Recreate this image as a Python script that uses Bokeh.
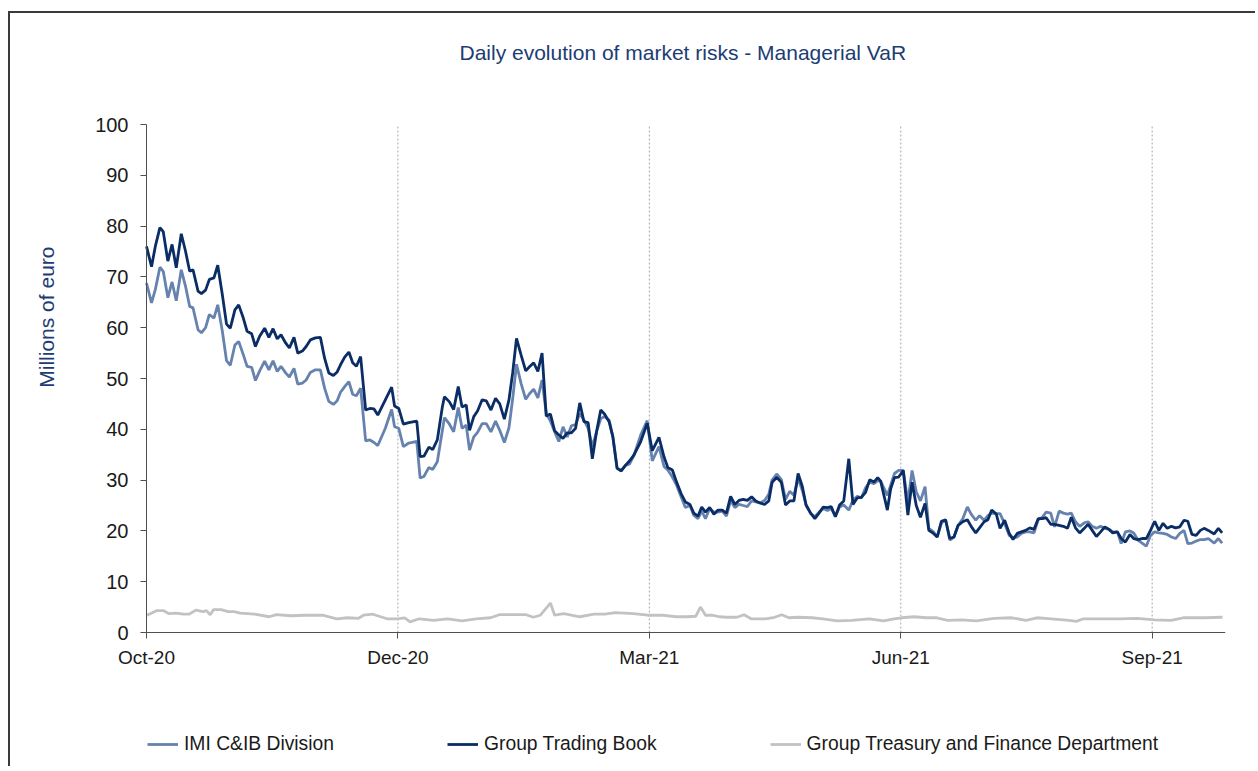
from bokeh.plotting import figure
from bokeh.models import FixedTicker, Legend, LegendItem, Title, LinearAxis
from bokeh.embed import file_html
from bokeh.resources import INLINE

# ---------------- data ----------------
# x = trading-day index since start of Oct-20
tick_days = [0, 60, 120, 180, 240]
tick_labels = ["Oct-20", "Dec-20", "Mar-21", "Jun-21", "Sep-21"]
y_ticks = [0, 10, 20, 30, 40, 50, 60, 70, 80, 90, 100]

days = [
    0, 1.2, 2.1, 3.2, 4, 5.1, 6.1, 7.1, 8.3, 9.3,
    10.3, 11.1, 12.3, 13.1, 14.1, 15, 16.1, 17, 18.1, 19.1,
    20, 21.1, 22, 23.1, 24, 25.1, 26, 27, 28.2, 29.2,
    30.2, 31.2, 32.1, 33.2, 34.1, 35.2, 36.1, 37.2, 38.1, 39.1,
    40.3, 41.5, 42.5, 43.5, 44.6, 45.5, 46.3, 47.3, 48.3, 49.2,
    50.1, 51.1, 52.3, 53.3, 54.3, 55.2,
    57, 58.5, 59.2, 60.2, 61.3, 62.6, 64.5, 65.3, 66.2, 67.4,
    68.3, 69.4, 70.6, 71.1, 72.3, 73.3, 74.4, 75.3, 76.3, 77.1,
    78.1, 79, 80.1, 81.1, 82.2, 83.3, 84.3, 85.4, 86.5, 87.4,
    88.3, 89.4, 90.5, 91.4, 92.4, 93.4, 94.4, 95.4, 96.4, 97.4,
    98.4, 99.4, 100.4, 101.4, 102.4, 103.4, 104.4, 105.4, 106.4, 107.4,
    108.4, 109.3, 110.4, 111.3, 112.3, 113.3, 114.3, 115.3, 116.3,
    117.9, 119.5, 120.7, 122.3, 123.5, 124.4, 125.5, 126.5, 127.6, 128.6,
    129.7, 130.6, 131.6, 132.5, 133.4, 134.4, 135.4, 136.4, 137.4, 138.4,
    139.4, 140.4, 141.4, 142.4, 143.4, 144.4, 145.4, 146.4, 147.5, 148.5,
    149.3, 150.4, 151.5, 152.5, 153.5, 154.5, 155.5, 156.5, 157.4, 158.5,
    159.5, 160.5, 161.5, 162.5, 163.4, 164.4, 165.4, 166.4, 167.6, 168.6,
    169.6, 170.6, 171.6, 172.6, 173.6, 174.5,
    175.2, 176.8, 177.6, 178.5, 179.5, 180.6, 181.7, 182.7, 183.7, 184.7,
    185.8, 186.7, 187.8, 188.7, 189.7, 190.7, 191.7, 192.7, 193.7, 194.8,
    195.9, 196.8, 197.9, 198.8, 199.9, 200.8, 201.7, 202.8, 203.7, 204.8,
    205.9, 206.8, 207.8, 208.8, 209.8, 210.8, 211.8, 212.8, 213.8, 214.7,
    215.8, 216.7, 217.8, 218.8, 219.8, 220.7, 221.7, 222.7, 223.8, 224.7,
    225.7, 226.7, 227.7, 228.7, 229.7, 230.6, 231.7, 232.6, 233.6, 234.7,
    235.6, 236.6, 237.6, 238.6, 239.6, 240.6, 241.6, 242.6, 243.6, 244.6,
    245.6, 246.6, 247.6, 248.5, 249.5, 250.5, 251.5, 252.4, 253.4, 254.8,
    255.8, 256.7,
]

imi_cib = [
    68.8, 64.9, 67.5, 71.9, 71.1, 65.9, 69, 65.3, 71.4, 68.2,
    64.2, 63.9, 59.6, 59, 60, 62.6, 61.9, 64.5, 59.3, 53.5,
    52.6, 56.6, 57.3, 54.7, 52.4, 52.2, 49.6, 51.5, 53.4, 51.7,
    53.5, 51.4, 52.4, 51.1, 50.3, 52, 48.9, 49.1, 49.7, 51.2,
    51.7, 51.7, 48.1, 45.5, 44.9, 45.6, 47.3, 48.4, 49.4, 46.9,
    46.6, 48.1, 37.7, 37.9, 37.4, 36.8,
    40.2, 43.9, 40.5, 40.2, 36.6, 37.3, 37.6, 30.4, 30.7, 32.5,
    32.1, 33.6, 39.7, 42.3, 41, 39.5, 44.3, 40.2, 40.8, 35.9,
    38.5, 39.4, 41.1, 41.1, 39.5, 41.6, 39.8, 37.4, 40.3, 46.1,
    52.8, 49, 45.9, 47, 47.9, 46.2, 49.7, 43.1, 41.6, 39.5,
    37.6, 40.5, 38.5, 40.7, 40.9, 43.1, 41.8, 40.2, 36.6, 39.5,
    42.1, 42.5, 41.8, 38.5, 32.4, 31.9, 32.9, 33.2, 34.8,
    38.8, 41.7, 33.8, 36.6, 32.7, 32, 30.6, 29, 26.7, 24.6,
    25, 23.1, 22.4, 23.9, 22.4, 24.4, 23.7, 23.7, 23.9, 22.9,
    26, 24.6, 25.2, 25, 24.8, 25.9, 25.7, 25.5, 26, 27.2,
    30, 31.2, 30.1, 26.2, 27.8, 27, 30.3, 28, 25.1, 23.4,
    22.8, 23.7, 24.4, 24, 24.4, 22.9, 24.7, 25.1, 24.1, 26,
    26.8, 26.5, 28.5, 29.6, 29.3, 29.9,
    29.8, 27, 29, 31.3, 31.9, 31.9, 25.7, 31.9, 27.7, 25.9,
    28.7, 20.5, 19.8, 18.8, 21.5, 22.2, 18.2, 18.8, 21.1, 22.4,
    24.7, 23.3, 22.1, 23, 22.1, 23, 23.5, 23.4, 23.4, 21.4,
    19.1, 18.7, 18.8, 19.5, 19.8, 19.8, 19.6, 22.2, 22.7, 23.7,
    23.5, 20.8, 23.9, 23.5, 23.3, 23.5, 21.8, 20.9, 21.6, 21.8,
    20.9, 20.5, 20.9, 20.5, 20.3, 19.8, 19.8, 17.5, 19.8, 20,
    19.6, 18.2, 17.6, 17, 19.1, 19.8, 19.6, 19.5, 19.3, 18.8,
    18.5, 19.5, 20.1, 17.5, 17.6, 18, 18.3, 18.3, 18.5, 17.6,
    18.5, 17.6,
]

group_trading_book = [
    76, 72, 76, 79.7, 78.9, 73.1, 76.4, 71.8, 78.5, 75.1,
    71.1, 71.4, 67.2, 66.7, 67.4, 69.5, 69.8, 72.3, 66.5, 60.7,
    59.9, 63.5, 64.5, 61.9, 59.3, 58.8, 56.3, 58.3, 59.9, 58.1,
    59.8, 57.8, 58.6, 57, 56, 58.1, 55, 55.4, 56.3, 57.6,
    58, 58.1, 54, 51.1, 50.6, 51.3, 52.7, 54.2, 55.2, 53.1,
    52.4, 54.3, 43.8, 44.1, 44, 42.8,
    45.8, 48.3, 44.6, 44.1, 41.0, 41.3, 41.6, 34.6, 34.7, 36.5,
    36, 37.9, 44.4, 46.4, 45.4, 43.9, 48.4, 44.4, 44.8, 39.8,
    42.5, 43.6, 45.8, 45.6, 43.8, 46.1, 45, 42, 45.8, 51.2,
    57.9, 54.6, 51.5, 52.3, 53.1, 51.4, 55, 42.6, 43, 39.7,
    38.9, 38.2, 39.3, 39.3, 40.2, 45.2, 41.5, 41.3, 34.2, 39.5,
    43.8, 43, 41.5, 38.5, 32.3, 31.8, 32.9, 33.8, 34.9,
    37.5, 41.2, 35.8, 38.4, 34.6, 32.5, 32, 29.6, 27.3, 25.7,
    25.2, 23.5, 22.9, 24.7, 23.7, 24.6, 23.3, 24.1, 24.1, 23.5,
    26.8, 25.2, 26, 26.2, 26, 26.7, 25.9, 25.5, 25.2, 25.9,
    29.6, 30.5, 29.6, 25.1, 25.9, 25.9, 31.3, 28.8, 25.1, 23.5,
    22.4, 23.5, 24.7, 24.6, 24.8, 22.8, 25.1, 25.9, 34.2, 25.2,
    26.5, 26.6, 27.6, 30.1, 29.6, 30.5,
    29.8, 24.1, 28.3, 30.5, 30.6, 31.9, 23.1, 29.6, 25, 22.7,
    25.4, 20.1, 19.5, 18.8, 21.9, 22.2, 18.5, 18.8, 21.1, 21.8,
    22.2, 20.9, 19.6, 20.6, 21.8, 22.2, 24.1, 23.3, 20.5, 22.1,
    19.5, 18.3, 19.5, 19.8, 20.1, 20.6, 20.3, 22.4, 22.4, 22.6,
    21.3, 21.3, 21.1, 20.9, 20.5, 22.7, 20.6, 19.6, 20.5, 21.3,
    20.1, 18.9, 19.8, 20.8, 20.3, 19.6, 19.8, 18.5, 17.8, 19.3,
    18.5, 18.3, 18.5, 18.5, 20.1, 21.9, 20.1, 21.5, 20.5, 20.9,
    20.6, 20.8, 22.1, 21.9, 19.3, 19.1, 20.1, 20.5, 20.1, 19.4,
    20.5, 19.6,
]

treasury_days = [
    0.1, 2.4, 4.1, 5.4, 7.1, 8.8, 10.1, 11.8, 13.5, 14.3,
    15.2, 16, 17.8, 19.5, 20.9, 22.4, 25.8, 29.3, 31, 34.4,
    37.8, 42, 45.4, 48, 50.6, 51.8, 54, 57.4, 59.9, 61.6,
    62.9, 65.1, 68.5, 71.9, 75.3, 78.7, 82.1, 84.2, 87.2, 90.6,
    92.3, 94, 96.4, 97.4, 99.6, 103.4, 106.8, 109.4, 111.9, 116.2,
    119.6, 123, 126.4, 129, 131.1, 132.2, 133.4, 134.9, 136.7, 138.4,
    140.9, 142.6, 144.3, 147.7, 149.9, 151.6, 153.3, 155.4, 158.8, 161.4,
    164.8, 168.2, 172.5, 175.9, 178.4, 180.2, 183.1, 186.1, 188.6, 191.2,
    194.6, 198, 202.3, 206.5, 209.9, 212.5, 215.9, 220.2, 221.9, 223.6,
    227.9, 232.1, 236.4, 240.6, 244.5, 247.4, 252.6, 256.8,
]

group_treasury = [
    3.4, 4.3, 4.3, 3.7, 3.8, 3.6, 3.6, 4.4, 4.1, 4.3,
    3.5, 4.5, 4.5, 4.1, 4.1, 3.8, 3.6, 3.1, 3.5, 3.3,
    3.4, 3.4, 2.7, 2.9, 2.8, 3.4, 3.6, 2.7, 2.7, 2.9,
    2.1, 2.7, 2.4, 2.7, 2.3, 2.7, 2.9, 3.5, 3.5, 3.5,
    3.0, 3.4, 5.8, 3.4, 3.7, 3.1, 3.6, 3.6, 3.9, 3.7,
    3.4, 3.4, 3.1, 3.1, 3.2, 5.0, 3.4, 3.4, 3.1, 3.0,
    3.0, 3.5, 2.7, 2.7, 3.0, 3.5, 2.9, 3.0, 2.9, 2.7,
    2.3, 2.4, 2.7, 2.3, 2.7, 2.9, 3.1, 2.9, 2.9, 2.4,
    2.5, 2.3, 2.8, 2.9, 2.4, 2.9, 2.7, 2.4, 2.2, 2.7,
    2.7, 2.7, 2.8, 2.5, 2.4, 2.9, 2.9, 3.0,
]

series_names = ["IMI C&IB Division", "Group Trading Book",
                "Group Treasury and Finance Department"]
chart_title = "Daily evolution of market risks - Managerial VaR"
y_title = "Millions of euro"

# ---------------- styling ----------------
FONT = "Liberation Sans"
NAVY = "#0A2D66"
SLATE = "#6682AE"
GREY = "#C2C2C2"
TITLE_BLUE = "#1C3C73"
TEXT = "#1a1a1a"
AXIS = "#505050"

X_MAX = 257.5
PX_PER_DAY = 1079 / X_MAX
LEFT_PAD_PX = 58            # frame reaches left of the y axis to hold its labels
X_MIN = -LEFT_PAD_PX / PX_PER_DAY
PX_PER_UNIT = 5.08          # 508 px for 0..100
TOP_PAD_PX = 12             # room above 100 for the top tick label
FRAME_H = 637 + TOP_PAD_PX  # frame also holds the legend row below the x axis
Y_MAX = 100 + TOP_PAD_PX / PX_PER_UNIT
Y_MIN = Y_MAX - FRAME_H / PX_PER_UNIT

p = figure(
    frame_width=1079 + LEFT_PAD_PX, frame_height=FRAME_H,
    x_range=(X_MIN, X_MAX), y_range=(Y_MIN, Y_MAX),
    min_border_left=136 - LEFT_PAD_PX, min_border_right=30,
    min_border_top=111 - TOP_PAD_PX, min_border_bottom=5,
    output_backend="svg", toolbar_location=None,
    background_fill_color="white", border_fill_color="white",
)
p.styles = {
    "position": "relative", "top": "11px", "left": "8px",
    "border-top": "2px solid #3a3a3a", "border-left": "2px solid #3a3a3a",
}
p.outline_line_color = None

# main axes, pinned at x=0 / y=0 (styled before any spacer axis is added)
xa = p.xaxis[0]
ya = p.yaxis[0]
xa.fixed_location = 0
ya.fixed_location = 0
xa.bounds = (0, X_MAX)
ya.bounds = (0, 100)
xa.ticker = FixedTicker(ticks=tick_days)
xa.major_label_overrides = {d: lab for d, lab in zip(tick_days, tick_labels)}
ya.ticker = FixedTicker(ticks=y_ticks)
for ax in (xa, ya):
    ax.axis_line_color = AXIS
    ax.axis_line_width = 1
    ax.major_tick_line_color = AXIS
    ax.major_tick_out = 6
    ax.major_tick_in = 0
    ax.minor_tick_line_color = None
    ax.major_label_text_font = FONT
    ax.major_label_text_color = TEXT
xa.major_label_text_font_size = "19px"
ya.major_label_text_font_size = "20px"
xa.major_label_standoff = 8
ya.major_label_standoff = 12

p.xgrid.visible = False
p.ygrid.visible = False
# vertical dotted guides at the month ticks, from 0 to 100
p.segment(x0=tick_days[1:], y0=[0] * 4, x1=tick_days[1:], y1=[100] * 4,
          line_color="#a8a8a8", line_dash="2 2", line_width=1)


def spacer(size):
    # invisible axis used only to reserve room in a side panel
    return LinearAxis(ticker=FixedTicker(ticks=[50]), axis_line_color=None,
                      major_tick_out=size, major_tick_in=0, minor_tick_out=0,
                      major_tick_line_color=None, minor_tick_line_color=None,
                      major_label_standoff=0, major_label_text_font_size="0px",
                      major_label_overrides={50: ""})


# title, outside an invisible spacer above the frame
p.add_layout(spacer(61 - TOP_PAD_PX), "above")
p.add_layout(Title(text=chart_title, align="left", offset=371, standoff=0,
                   text_font=FONT, text_font_size="21px",
                   text_font_style="normal", text_color=TITLE_BLUE), "above")

# y title, outside an invisible spacer left of the frame
p.add_layout(spacer(31), "left")
p.add_layout(Title(text=y_title, align="right", offset=122 + TOP_PAD_PX,
                   standoff=0, text_font=FONT, text_font_size="21px",
                   text_font_style="normal", text_color=TITLE_BLUE), "left")

r_tre = p.line(treasury_days, group_treasury, line_color=GREY, line_width=2.8)
r_imi = p.line(days, imi_cib, line_color=SLATE, line_width=2.8)
r_gtb = p.line(days, group_trading_book, line_color=NAVY, line_width=2.8)

legend = Legend(
    items=[LegendItem(label=series_names[0], renderers=[r_imi]),
           LegendItem(label=series_names[1], renderers=[r_gtb]),
           LegendItem(label=series_names[2], renderers=[r_tre])],
    location=(LEFT_PAD_PX + 1, 6), orientation="horizontal",
    padding=0, margin=0, spacing=113, label_standoff=6,
    glyph_width=31, glyph_height=20,
    label_text_font=FONT, label_text_font_size="19.3px", label_text_color=TEXT,
    border_line_alpha=0, background_fill_alpha=0,
)
p.add_layout(legend)

open("out.html", "w").write(file_html(p, INLINE))
